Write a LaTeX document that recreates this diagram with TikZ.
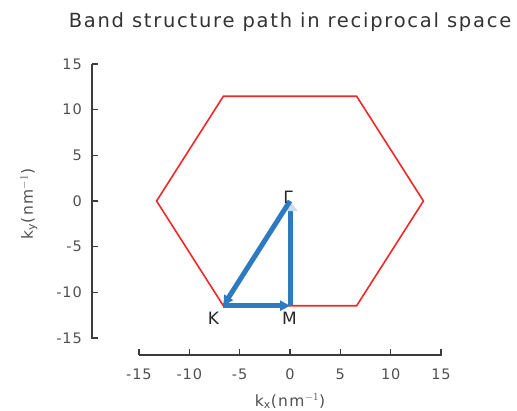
\documentclass[tikz,border=0pt]{standalone}
\usepackage{fontspec}
\setmainfont{DejaVu Sans}
\newfontfamily\widefont[LetterSpace=6]{DejaVu Sans}
\newfontfamily\titlefont[LetterSpace=9]{DejaVu Sans}
\usetikzlibrary{arrows.meta}
\definecolor{pathblue}{RGB}{46,122,192}
\definecolor{headlight}{RGB}{200,222,240}
\definecolor{hexred}{RGB}{240,40,40}
\definecolor{axgray}{RGB}{60,60,60}
\definecolor{tickgray}{RGB}{80,80,80}
\tikzset{
  axisline/.style={draw=axgray, line width=1.2pt},
  ticklab/.style={text=tickgray, font=\widefont\fontsize{14.5}{14.5}\selectfont, inner sep=0pt},
  axlab/.style={text=tickgray, font=\titlefont\fontsize{15.5}{15.5}\selectfont, inner sep=0pt},
  hexline/.style={draw=hexred, line width=1.6pt, line join=miter},
  bzpath/.style={draw=pathblue, line width=5pt, -{Triangle[length=10pt,width=10pt]}},
  ptlab/.style={font=\fontsize{17}{17}\selectfont, inner sep=0pt, text=black!85},
}
\begin{document}
\begin{tikzpicture}[x=1pt,y=-1pt]
\useasboundingbox (0,0) rectangle (517,410);
% title
\node[font=\titlefont\fontsize{19.5}{19.5}\selectfont, text=black!80, inner sep=0pt] (title) at (290,22) {Band structure path in reciprocal space};
% y axis
\draw[axisline] (92,63.5) -- (92,338.5);
\foreach \v/\lab in {15/15,10/10,5/5,0/0,-5/-5,-10/-10,-15/-15} {
  \pgfmathsetmacro{\yy}{201-9.13*\v}
  \draw[axisline] (92,\yy) -- (98,\yy);
  \node[ticklab, anchor=east] (yt\v) at (82,\yy) {\lab};
}
% x axis
\draw[axisline] (138.5,355) -- (441.5,355);
\foreach \v/\lab in {-15/-15,-10/-10,-5/-5,0/0,5/5,10/10,15/15} {
  \pgfmathsetmacro{\xx}{290+10.07*\v}
  \draw[axisline] (\xx,355) -- (\xx,349);
  \node[ticklab] (xt\v) at (\xx,374) {\lab};
}
% axis labels
\node[axlab] (xlab) at (290,401) {k\textsubscript{x}(nm$^{-1}$)};
\node[axlab, rotate=90] (ylab) at (29,204) {k\textsubscript{y}(nm$^{-1}$)};
% data scope
\begin{scope}[shift={(290,201)}, x=10.07pt, y=9.13pt]
  \draw[hexline] (13.25,0) -- (6.62,11.47) -- (-6.62,11.47) -- (-13.25,0) -- (-6.62,-11.47) -- (6.62,-11.47) -- cycle;
  \coordinate (G) at (0,0);
  \coordinate (K) at (-6.62,-11.47);
  \coordinate (M) at (0,-11.47);
  \draw[bzpath] (K) -- (M);
  \draw[bzpath, -{Triangle[length=10pt,width=15pt,color=headlight]}] (M) -- (G);
  \draw[bzpath] (G) -- (K);
  \node[ptlab] (Glab) at (-0.2,0.45) {Γ};
  \node[ptlab] (Klab) at (-7.6,-12.9) {K};
  \node[ptlab] (Mlab) at (-0.05,-12.9) {M};
\end{scope}
\end{tikzpicture}
\end{document}
